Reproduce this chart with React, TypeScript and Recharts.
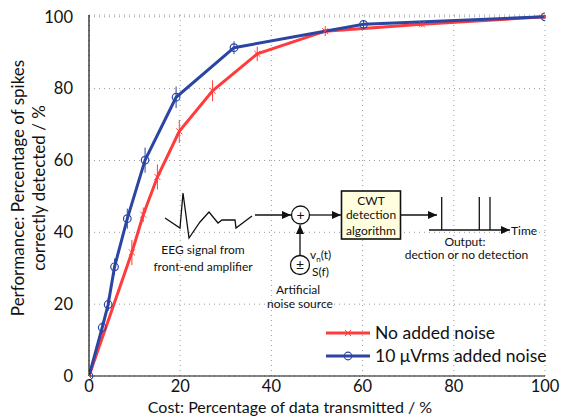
import { CSSProperties } from "react";
import { LineChart, Line, XAxis, YAxis, CartesianGrid, ErrorBar } from "recharts";

// values
const noiseX = [0, 2.9, 4.2, 5.6, 8.4, 12.3, 19.1, 31.8, 60.2, 100];
const noiseY = [0, 13.5, 19.9, 30.4, 43.8, 60.1, 77.6, 91.4, 97.9, 100];
const noiseErr = [0, 1.6, 1.8, 2.3, 2.8, 3.5, 3, 1.8, 1.2, 0.5];

const cleanX = [0, 9.4, 11.9, 15, 19.8, 27.1, 36.9, 51.8, 73, 100];
const cleanY = [0, 34.4, 44.9, 55.4, 68.1, 79.4, 89.7, 96, 97.9, 100];
const cleanErr = [0, 3.5, 2, 3.5, 3.2, 2.9, 2, 1.4, 0.8, 0.5];

const ticks = [0, 20, 40, 60, 80, 100];

const RED = "#ff3b3b";
const BLUE = "#2b45a3";
const FONT = "Lato, 'Open Sans', sans-serif";

const noiseData = noiseX.map((x, i) => ({ x, y: noiseY[i], err: noiseErr[i] }));
const cleanData = cleanX.map((x, i) => ({ x, y: cleanY[i], err: cleanErr[i] }));

const CrossDot = (props: any) => {
  const { cx, cy } = props;
  if (cx == null || cy == null) return null;
  const s = 3;
  return (
    <g stroke={RED} strokeWidth={1}>
      <line x1={cx - s} y1={cy - s} x2={cx + s} y2={cy + s} />
      <line x1={cx - s} y1={cy + s} x2={cx + s} y2={cy - s} />
    </g>
  );
};

const CircleDot = (props: any) => {
  const { cx, cy } = props;
  if (cx == null || cy == null) return null;
  return <circle cx={cx} cy={cy} r={3.8} fill="none" stroke={BLUE} strokeWidth={1.2} />;
};

const LegendBox = () => {
  const row: CSSProperties = { display: "flex", alignItems: "center", height: 23 };
  const txt: CSSProperties = { fontFamily: FONT, fontSize: 17.5, color: "#111", marginLeft: 4, whiteSpace: "nowrap" };
  return (
    <div style={{ position: "absolute", left: 325, top: 321 }}>
      <div style={row}>
        <svg width={46} height={12}>
          <line x1={1} y1={6} x2={45} y2={6} stroke={RED} strokeWidth={3} />
          <CrossDot cx={23} cy={6} />
        </svg>
        <span style={txt}>No added noise</span>
      </div>
      <div style={row}>
        <svg width={46} height={12}>
          <line x1={1} y1={6} x2={45} y2={6} stroke={BLUE} strokeWidth={3} />
          <CircleDot cx={23} cy={6} />
        </svg>
        <span style={txt}>10 μVrms added noise</span>
      </div>
    </div>
  );
};

// block diagram drawn inside the plot, plus the axis titles
const Inset = () => {
  const t = { fontFamily: FONT, fontSize: 12, fill: "#111" };
  return (
    <svg width={570} height={416} style={{ position: "absolute", left: 0, top: 0, pointerEvents: "none" }}>
      <defs>
        <marker id="ah" markerWidth={9} markerHeight={8} refX={9} refY={4} orient="auto" markerUnits="userSpaceOnUse">
          <path d="M0,0 L9,4 L0,8 z" fill="#111" />
        </marker>
      </defs>
      <g stroke="#111" strokeWidth={1.3} fill="none">
        <polyline points="165,218 180,228 183,193 189,238 200,222 209,212 218,223 222,220 235,220 236,228 252,216" />
        <line x1={255} y1={215} x2={291} y2={215} markerEnd="url(#ah)" />
        <circle cx={300.5} cy={215} r={9} fill="#fff" />
        <line x1={310} y1={215} x2={341} y2={215} markerEnd="url(#ah)" />
        <rect x={341.5} y={191} width={59} height={48} fill="#ffffe0" strokeWidth={1.6} />
        <line x1={401} y1={215} x2={437} y2={215} markerEnd="url(#ah)" />
        <line x1={429} y1={230} x2={510} y2={230} markerEnd="url(#ah)" />
        <line x1={441.7} y1={197} x2={441.7} y2={230} />
        <line x1={479.3} y1={197} x2={479.3} y2={230} />
        <line x1={490} y1={197} x2={490} y2={230} />
        <circle cx={300} cy={265} r={9.5} fill="#fff" />
        <line x1={300} y1={255.5} x2={300} y2={225} markerEnd="url(#ah)" />
      </g>
      <text {...t} x={300.5} y={219.5} textAnchor="middle" fontSize={14}>+</text>
      <text {...t} x={300} y={270} textAnchor="middle" fontSize={14}>±</text>
      <text {...t} x={371} y={204.5} textAnchor="middle">CWT</text>
      <text {...t} x={371} y={219} textAnchor="middle">detection</text>
      <text {...t} x={371} y={234.5} textAnchor="middle">algorithm</text>
      <text {...t} x={511} y={235}>Time</text>
      <text {...t} x={465} y={245.5} textAnchor="middle">Output:</text>
      <text {...t} x={466.5} y={259} textAnchor="middle">dection or no detection</text>
      <text {...t} x={203} y={254} textAnchor="middle">EEG signal from</text>
      <text {...t} x={203} y={271} textAnchor="middle">front-end amplifier</text>
      <text {...t} x={298} y={294} textAnchor="middle">Artificial</text>
      <text {...t} x={300} y={307.5} textAnchor="middle">noise source</text>
      <text {...t} x={310} y={259}>
        v<tspan fontSize={8} dy={3}>n</tspan>
        <tspan dy={-3}>(t)</tspan>
      </text>
      <text {...t} x={312} y={276}>S(f)</text>
      <g fontFamily={FONT} fontSize={17} fill="#111">
        <text x={24} y={188} textAnchor="middle" transform="rotate(-90 24 188)">
          Performance: Percentage of spikes
        </text>
        <text x={45} y={188} textAnchor="middle" transform="rotate(-90 45 188)">
          correctly detected / %
        </text>
      </g>
      <text x={290} y={412.5} textAnchor="middle" fontFamily={FONT} fontSize={16} fill="#111">
        Cost: Percentage of data transmitted / %
      </text>
    </svg>
  );
};

export default function App() {
  const tickStyle = { fontFamily: FONT, fontSize: 16.5, fill: "#111" };
  return (
    <div style={{ position: "absolute", left: 0, top: 0, width: 570, height: 416, background: "#fff" }}>
      <LineChart width={570} height={416} margin={{ top: 15, right: 25, bottom: 0, left: 0 }}>
        <CartesianGrid stroke="#9a9a9a" strokeDasharray="1 4" vertical horizontal />
        <XAxis
          type="number"
          dataKey="x"
          domain={[0, 100]}
          ticks={ticks}
          height={40}
          tickLine={false}
          axisLine={{ stroke: "#111", strokeWidth: 1.2 }}
          tick={tickStyle}
          tickMargin={-2}
          allowDataOverflow
        />
        <YAxis
          type="number"
          dataKey="y"
          domain={[0, 100]}
          ticks={ticks}
          width={89}
          tickLine={false}
          axisLine={{ stroke: "#111", strokeWidth: 1.2 }}
          tick={tickStyle}
          tickMargin={10}
        />
        <Line
          data={cleanData}
          dataKey="y"
          stroke={RED}
          strokeWidth={3}
          dot={<CrossDot />}
          activeDot={false}
          isAnimationActive={false}
        >
          <ErrorBar dataKey="err" direction="y" width={0} stroke={RED} strokeWidth={1} isAnimationActive={false} />
        </Line>
        <Line
          data={noiseData}
          dataKey="y"
          stroke={BLUE}
          strokeWidth={3}
          dot={<CircleDot />}
          activeDot={false}
          isAnimationActive={false}
        >
          <ErrorBar dataKey="err" direction="y" width={0} stroke={BLUE} strokeWidth={1} isAnimationActive={false} />
        </Line>
      </LineChart>
      <Inset />
      <LegendBox />
    </div>
  );
}
